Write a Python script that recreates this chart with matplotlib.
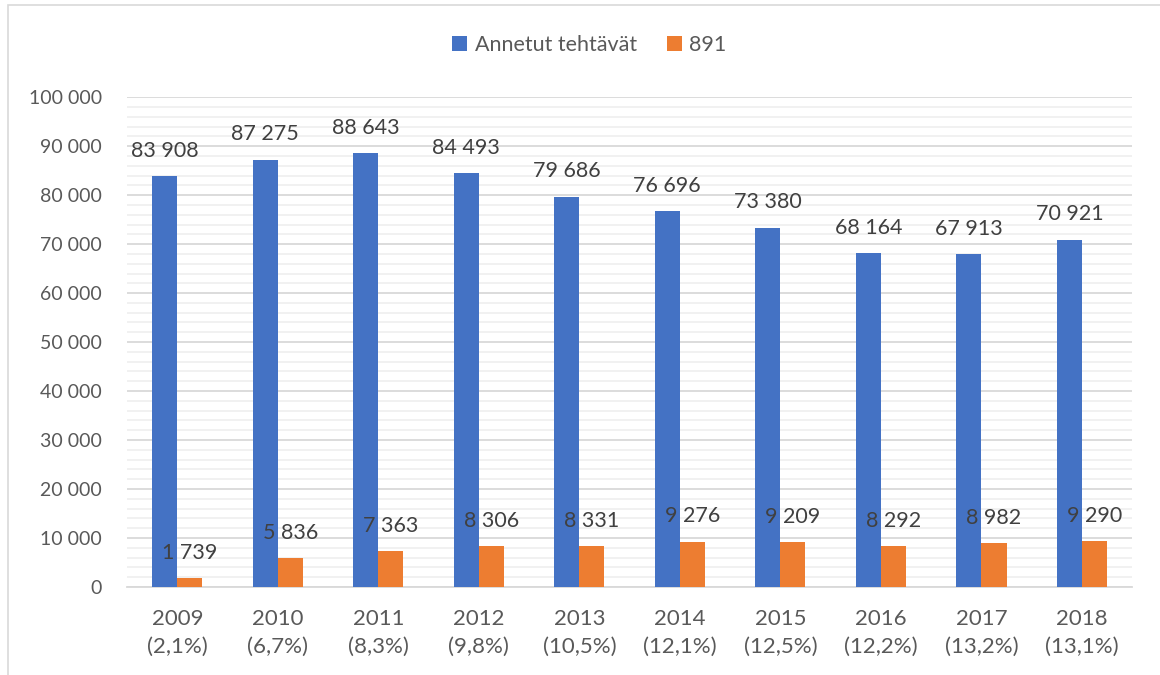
import matplotlib.pyplot as plt
import numpy as np
from matplotlib.patches import Rectangle
from matplotlib.ticker import MultipleLocator, FuncFormatter

years = ['2009', '2010', '2011', '2012', '2013', '2014', '2015', '2016', '2017', '2018']
shares = ['2,1%', '6,7%', '8,3%', '9,8%', '10,5%', '12,1%', '12,5%', '12,2%', '13,2%', '13,1%']
annetut = [83908, 87275, 88643, 84493, 79686, 76696, 73380, 68164, 67913, 70921]
n891 = [1739, 5836, 7363, 8306, 8331, 9276, 9209, 8292, 8982, 9290]

plt.rcParams['font.family'] = ['Lato', 'DejaVu Sans']
txt = '#595959'

fig = plt.figure(figsize=(11.6, 6.75), dpi=100)
ax = fig.add_axes([0.1095, 0.1304, 0.8665, 0.7256])

x = np.arange(len(years))
w = 0.25
b1 = ax.bar(x - w / 2, annetut, w, color='#4472C4', label='Annetut tehtävät', zorder=3)
b2 = ax.bar(x + w / 2, n891, w, color='#ED7D31', label='891', zorder=3)

def fmt(v):
    return '{:,}'.format(int(v)).replace(',', ' ')

for bars, vals in ((b1, annetut), (b2, n891)):
    for r, v in zip(bars, vals):
        ax.annotate(fmt(v), (r.get_x() + r.get_width() / 2, v), xytext=(0, 11),
                    textcoords='offset points', ha='center', va='bottom',
                    fontsize=15.5, color='#404040', zorder=4)

ax.set_xlim(-0.5, len(years) - 0.5)
ax.set_ylim(0, 100000)
ax.yaxis.set_major_locator(MultipleLocator(10000))
ax.yaxis.set_minor_locator(MultipleLocator(2000))
ax.yaxis.set_major_formatter(FuncFormatter(lambda v, p: fmt(v)))
ax.grid(axis='y', which='major', color='#D9D9D9', linewidth=1.3, zorder=0)
ax.grid(axis='y', which='minor', color='#F0F0F0', linewidth=1.3, zorder=0)
ax.set_xticks(x)
ax.set_xticklabels([f'{y}\n({s})' for y, s in zip(years, shares)], linespacing=1.5)
ax.tick_params(axis='y', which='both', length=0, labelsize=14, labelcolor=txt, pad=18)
ax.tick_params(axis='x', which='both', length=0, labelsize=16, labelcolor=txt, pad=16)
for s in ['top', 'right', 'left']:
    ax.spines[s].set_visible(False)
ax.spines['bottom'].set_color('#D9D9D9')
ax.spines['bottom'].set_linewidth(1.3)

fig.legend(loc='center', bbox_to_anchor=(0.508, 0.933), ncol=2, frameon=False,
           fontsize=15.5, labelcolor=txt, handlelength=0.7, handleheight=0.7,
           handletextpad=0.35, columnspacing=1.4)

fig.patches.append(Rectangle((0.007, -0.01), 0.995, 1.003, transform=fig.transFigure,
                             fill=False, edgecolor='#D9D9D9', linewidth=1.2))

fig.savefig('out.png', dpi=100)
